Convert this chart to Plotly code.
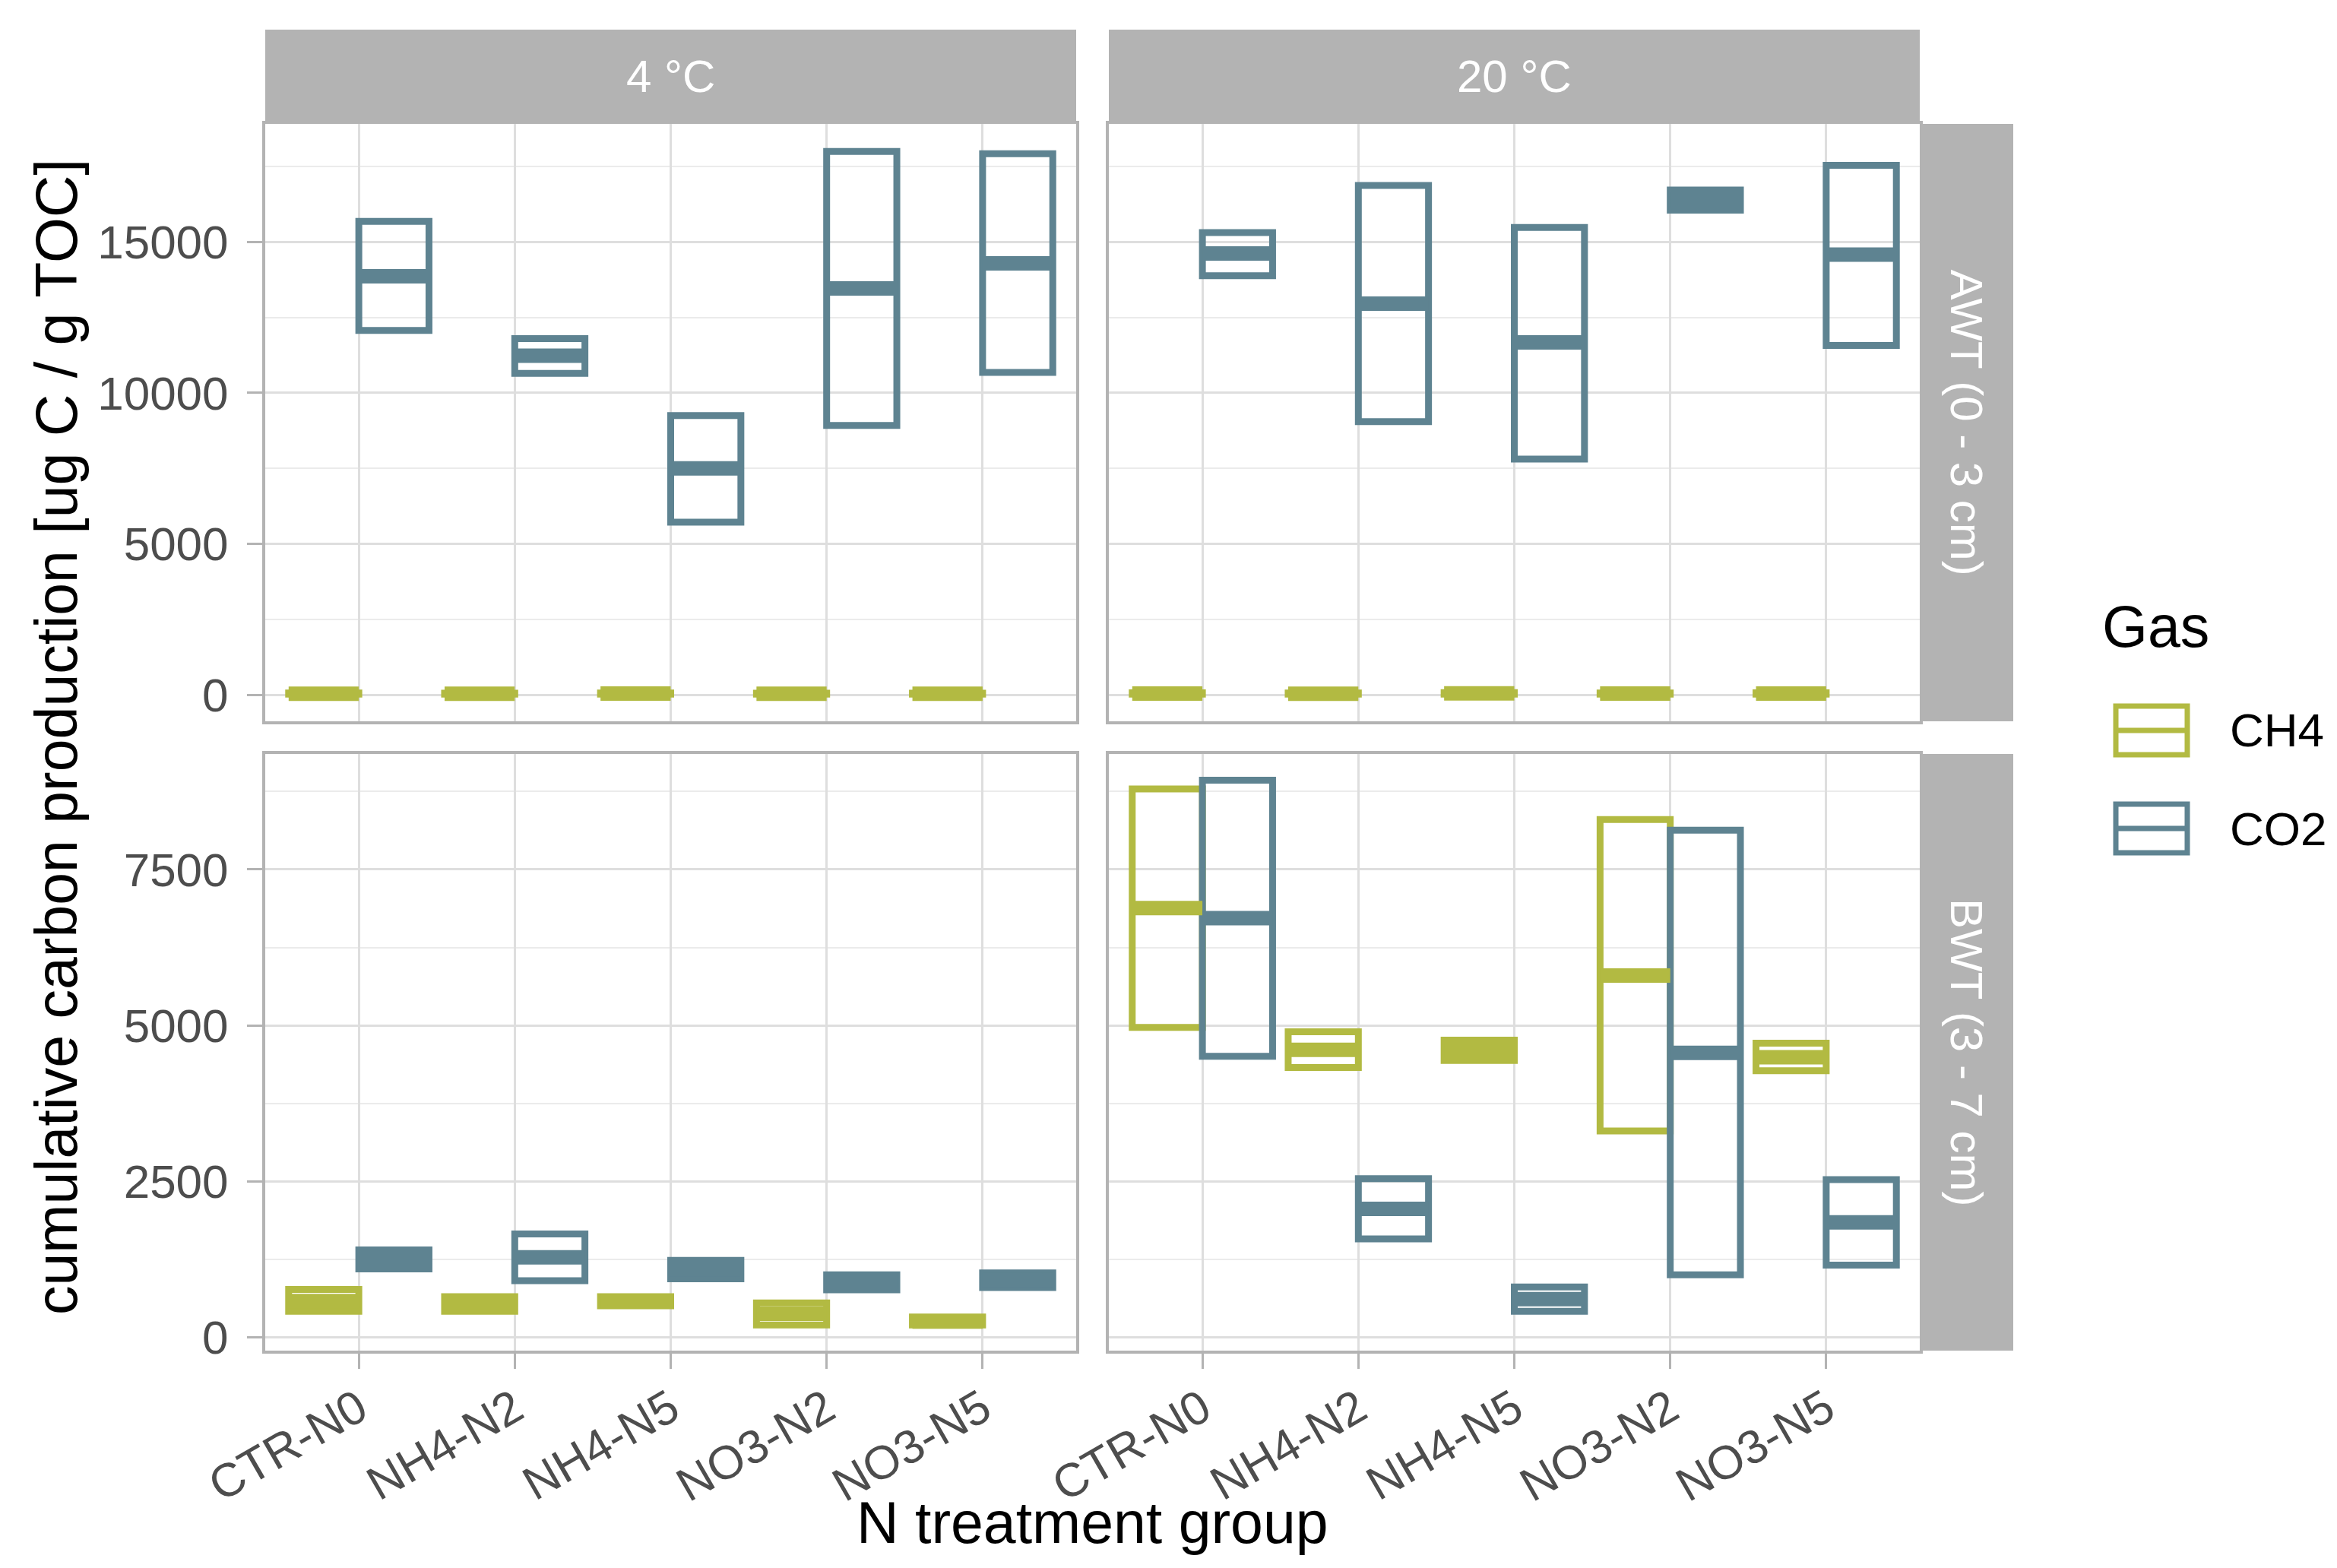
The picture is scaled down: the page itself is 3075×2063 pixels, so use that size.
import plotly.graph_objects as go

W, H = 3075, 2063          # reference canvas
OFF = 8                    # page body margin
FW, FH = W - 2 * OFF, H - 2 * OFF

CATS = ["CTR-N0", "NH4-N2", "NH4-N5", "NO3-N2", "NO3-N5"]
TEMPS = ["4 °C", "20 °C"]
DEPTHS = ["AWT (0 - 3 cm)", "BWT (3 - 7 cm)"]
GASES = ["CH4", "CO2"]
COLORS = {"CH4": "#B2BA42", "CO2": "#5E8391"}

# AWT (0 - 3 cm), 4 °C
AWT4_CH4_Q1 = [25, 25, 25, 25, 25]
AWT4_CH4_MED = [40, 38, 42, 35, 40]
AWT4_CH4_Q3 = [60, 55, 60, 55, 58]
AWT4_CO2_Q1 = [12070, 10650, 5720, 8920, 10680]
AWT4_CO2_MED = [13860, 11230, 7500, 13460, 14290]
AWT4_CO2_Q3 = [15680, 11800, 9250, 18000, 17920]
# AWT (0 - 3 cm), 20 °C
AWT20_CH4_Q1 = [25, 25, 25, 25, 25]
AWT20_CH4_MED = [45, 40, 50, 42, 45]
AWT20_CH4_Q3 = [70, 60, 75, 65, 70]
AWT20_CO2_Q1 = [13880, 9050, 7810, 16050, 11570]
AWT20_CO2_MED = [14620, 12960, 11670, 16390, 14580]
AWT20_CO2_Q3 = [15310, 16870, 15480, 16720, 17540]
# BWT (3 - 7 cm), 4 °C
BWT4_CH4_Q1 = [420, 420, 510, 200, 200]
BWT4_CH4_MED = [585, 540, 580, 380, 255]
BWT4_CH4_Q3 = [770, 655, 655, 555, 330]
BWT4_CO2_Q1 = [1100, 910, 940, 765, 800]
BWT4_CO2_MED = [1250, 1285, 1090, 885, 920]
BWT4_CO2_Q3 = [1405, 1660, 1235, 1005, 1035]
# BWT (3 - 7 cm), 20 °C
BWT20_CH4_Q1 = [4970, 4325, 4440, 3310, 4275]
BWT20_CH4_MED = [6880, 4610, 4600, 5800, 4490]
BWT20_CH4_Q3 = [8790, 4900, 4765, 8300, 4715]
BWT20_CO2_Q1 = [4505, 1580, 420, 1005, 1160]
BWT20_CO2_MED = [6720, 2060, 615, 4560, 1845]
BWT20_CO2_Q3 = [8930, 2545, 810, 8130, 2530]

Y_RANGE_TOP = [-875, 18910]
Y_RANGE_BOT = [-210, 9350]
Y_DTICK_TOP = 5000
Y_DTICK_BOT = 2500

PANELS = [
    (1, 0, 0, {"CH4": (AWT4_CH4_Q1, AWT4_CH4_MED, AWT4_CH4_Q3),
               "CO2": (AWT4_CO2_Q1, AWT4_CO2_MED, AWT4_CO2_Q3)}),
    (2, 0, 1, {"CH4": (AWT20_CH4_Q1, AWT20_CH4_MED, AWT20_CH4_Q3),
               "CO2": (AWT20_CO2_Q1, AWT20_CO2_MED, AWT20_CO2_Q3)}),
    (3, 1, 0, {"CH4": (BWT4_CH4_Q1, BWT4_CH4_MED, BWT4_CH4_Q3),
               "CO2": (BWT4_CO2_Q1, BWT4_CO2_MED, BWT4_CO2_Q3)}),
    (4, 1, 1, {"CH4": (BWT20_CH4_Q1, BWT20_CH4_MED, BWT20_CH4_Q3),
               "CO2": (BWT20_CO2_Q1, BWT20_CO2_MED, BWT20_CO2_Q3)}),
]

# layout in reference pixels
COL_X = [(349, 1416), (1459, 2526)]
ROW_Y = [(163, 949), (992, 1777)]
STRIP_TOP = 39
ROW_STRIP_X = (2526, 2649)


def fx(px):
    return (px - OFF) / FW


def fy(py):
    return 1 - (py - OFF) / FH


FONT = "Liberation Sans, Arial, sans-serif"
GRID = "#DEDEDE"
MINOR = "#EBEBEB"
BORDER = "#B3B3B3"
TICKTXT = "#4D4D4D"

fig = go.Figure()
BOX_LW = 9
MED_LW = 19

for idx, r, c, data in PANELS:
    xa = "x" if idx == 1 else f"x{idx}"
    ya = "y" if idx == 1 else f"y{idx}"
    for gas in GASES:
        q1, med, q3 = data[gas]
        fig.add_trace(go.Box(
            x=CATS, q1=q1, median=med, q3=q3, lowerfence=q1, upperfence=q3,
            xaxis=xa, yaxis=ya, name=gas, offsetgroup=gas, alignmentgroup=f"g{idx}",
            line=dict(color=COLORS[gas], width=BOX_LW), fillcolor="rgba(0,0,0,0)",
            whiskerwidth=0, boxpoints=False, showlegend=False, hoverinfo="skip"))
    for gas in GASES:
        q1, med, q3 = data[gas]
        fig.add_trace(go.Box(
            x=CATS, q1=med, median=med, q3=med, lowerfence=med, upperfence=med,
            xaxis=xa, yaxis=ya, name=gas + " median", offsetgroup=gas, alignmentgroup=f"g{idx}",
            line=dict(color=COLORS[gas], width=MED_LW), fillcolor="rgba(0,0,0,0)",
            whiskerwidth=0, boxpoints=False, showlegend=False, hoverinfo="skip"))

layout = dict(
    width=FW, height=FH, autosize=False,
    margin=dict(l=0, r=0, t=0, b=0, pad=0),
    template="none",
    paper_bgcolor="white", plot_bgcolor="white",
    boxmode="group", boxgap=0.1, boxgroupgap=0,
    showlegend=False,
    font=dict(family=FONT, color="black"),
)

for idx, r, c, data in PANELS:
    xkey = "xaxis" if idx == 1 else f"xaxis{idx}"
    ykey = "yaxis" if idx == 1 else f"yaxis{idx}"
    xa = "x" if idx == 1 else f"x{idx}"
    ya = "y" if idx == 1 else f"y{idx}"
    x0, x1 = COL_X[c]
    y0, y1 = ROW_Y[r]
    bottom = (r == 1)
    left = (c == 0)
    layout[xkey] = dict(
        domain=[fx(x0), fx(x1)], anchor=ya, type="category",
        categoryorder="array", categoryarray=CATS, range=[-0.6, 4.6],
        showgrid=True, gridcolor=GRID, gridwidth=3, zeroline=False,
        showline=True, mirror=True, linecolor=BORDER, linewidth=4,
        ticks="outside" if bottom else "", ticklen=20, tickwidth=3, tickcolor=BORDER,
        showticklabels=bottom, tickangle=-30, ticklabelstandoff=-8,
        tickfont=dict(size=62, color=TICKTXT, family=FONT),
        automargin=False, fixedrange=True,
    )
    layout[ykey] = dict(
        domain=[fy(y1), fy(y0)], anchor=xa,
        range=Y_RANGE_TOP if r == 0 else Y_RANGE_BOT,
        tick0=0, dtick=Y_DTICK_TOP if r == 0 else Y_DTICK_BOT, tickformat="d",
        showgrid=True, gridcolor=GRID, gridwidth=3, zeroline=False,
        minor=dict(dtick=(Y_DTICK_TOP if r == 0 else Y_DTICK_BOT) / 2,
                   showgrid=True, gridcolor=MINOR, gridwidth=2, ticks=""),
        showline=True, mirror=True, linecolor=BORDER, linewidth=4,
        ticks="outside" if left else "", ticklen=20, tickwidth=3, tickcolor=BORDER,
        showticklabels=left, ticklabelstandoff=12,
        tickfont=dict(size=62, color=TICKTXT, family=FONT),
        automargin=False, fixedrange=True,
    )

shapes = []
annotations = []
for c, t in enumerate(TEMPS):
    x0, x1 = COL_X[c]
    shapes.append(dict(type="rect", xref="paper", yref="paper",
                       x0=fx(x0), x1=fx(x1), y0=fy(ROW_Y[0][0]), y1=fy(STRIP_TOP),
                       fillcolor="#B3B3B3", line=dict(width=0), layer="above"))
    annotations.append(dict(text=t, xref="paper", yref="paper",
                            x=fx((x0 + x1) / 2), y=fy((STRIP_TOP + ROW_Y[0][0]) / 2),
                            showarrow=False, xanchor="center", yanchor="middle",
                            font=dict(size=60, color="white", family=FONT)))
for r, d in enumerate(DEPTHS):
    y0, y1 = ROW_Y[r]
    shapes.append(dict(type="rect", xref="paper", yref="paper",
                       x0=fx(ROW_STRIP_X[0]), x1=fx(ROW_STRIP_X[1]), y0=fy(y1), y1=fy(y0),
                       fillcolor="#B3B3B3", line=dict(width=0), layer="above"))
    annotations.append(dict(text=d, xref="paper", yref="paper",
                            x=fx(sum(ROW_STRIP_X) / 2), y=fy((y0 + y1) / 2),
                            showarrow=False, textangle=90, xanchor="center", yanchor="middle",
                            font=dict(size=60, color="white", family=FONT)))

annotations.append(dict(text="cumulative carbon production [ug C / g TOC]",
                        xref="paper", yref="paper", x=fx(74), y=fy((ROW_Y[0][0] + ROW_Y[1][1]) / 2),
                        showarrow=False, textangle=-90, xanchor="center", yanchor="middle",
                        font=dict(size=77, color="black", family=FONT)))
annotations.append(dict(text="N treatment group", xref="paper", yref="paper",
                        x=fx((COL_X[0][0] + COL_X[1][1]) / 2), y=fy(2003),
                        showarrow=False, xanchor="center", yanchor="middle",
                        font=dict(size=77, color="black", family=FONT)))

annotations.append(dict(text="Gas", xref="paper", yref="paper", x=fx(2764), y=fy(824),
                        showarrow=False, xanchor="left", yanchor="middle",
                        font=dict(size=77, color="black", family=FONT)))
KEY_Y = {"CH4": (929, 993), "CO2": (1058, 1122)}
for gas in GASES:
    ky0, ky1 = KEY_Y[gas]
    shapes.append(dict(type="rect", xref="paper", yref="paper",
                       x0=fx(2784), x1=fx(2878), y0=fy(ky1), y1=fy(ky0),
                       line=dict(color=COLORS[gas], width=7), fillcolor="rgba(0,0,0,0)"))
    shapes.append(dict(type="line", xref="paper", yref="paper",
                       x0=fx(2784), x1=fx(2878), y0=fy((ky0 + ky1) / 2), y1=fy((ky0 + ky1) / 2),
                       line=dict(color=COLORS[gas], width=7)))
    annotations.append(dict(text=gas, xref="paper", yref="paper", x=fx(2932),
                            y=fy((ky0 + ky1) / 2), showarrow=False, xanchor="left", yanchor="middle",
                            font=dict(size=62, color="black", family=FONT)))

layout["shapes"] = shapes
layout["annotations"] = annotations
fig.update_layout(**layout)

fig.write_html("out.html")
